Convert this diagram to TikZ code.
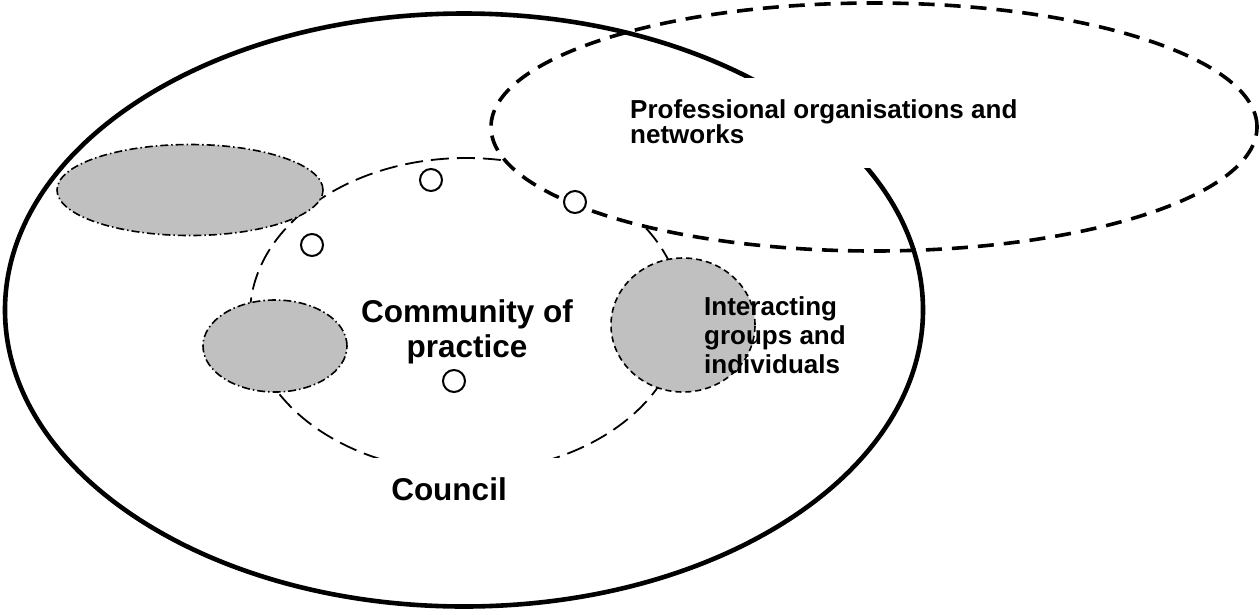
\documentclass[tikz,border=0pt]{standalone}
\usepackage{fontspec}
\setmainfont{Liberation Sans}
\usetikzlibrary{shapes.geometric}
\definecolor{blobgray}{HTML}{C0C0C0}
\begin{document}
\begin{tikzpicture}[x=1pt,y=-1pt,
  ring/.style={ellipse, inner sep=0pt, outer sep=0pt},
  councilring/.style={ring, draw, line width=4.6pt},
  copring/.style={ring, draw, line width=1.8pt, dash pattern=on 18pt off 8pt},
  netring/.style={ring, draw, fill=white, line width=3.6pt, dash pattern=on 16pt off 10pt},
  dashdotblob/.style={ring, draw, fill=blobgray, line width=1.6pt,
    dash pattern=on 8pt off 3pt on 1.5pt off 3pt},
  dashblob/.style={ring, draw, fill=blobgray, line width=1.6pt, dash pattern=on 6pt off 4pt},
  member/.style={circle, draw, fill=white, line width=2pt, minimum size=22pt, inner sep=0pt},
  panel/.style={fill=white, inner sep=0pt},
  smalltext/.style={font=\bfseries\fontsize{26}{25}\selectfont, align=left, inner sep=0pt},
  bigtext/.style={font=\bfseries\fontsize{31.5}{35}\selectfont, align=center, inner sep=0pt}]
\useasboundingbox (0,0) rectangle (1260,614);

% community of practice (drawn first, partly hidden by the other shapes)
\node[copring, minimum width=432pt, minimum height=314pt] (cop) at (466,315) {};

% professional organisations and networks
\node[netring, minimum width=766pt, minimum height=248pt] (net) at (874,127) {};

% council boundary
\node[councilring, minimum width=918pt, minimum height=593pt] (council) at (464,310) {};

% white label panels
\node[panel, minimum width=445pt, minimum height=90pt] (netpanel) at (822,123) {};
\node[panel, minimum width=210pt, minimum height=70pt] (councilpanel) at (466,493) {};

% interacting groups
\node[dashdotblob, minimum width=266pt, minimum height=91pt] (groupA) at (190,190) {};
\node[dashdotblob, minimum width=144pt, minimum height=92pt] (groupB) at (275,346) {};
\node[dashblob, minimum width=144pt, minimum height=134pt] (groupC) at (683,325) {};

% individuals
\node[member] (m1) at (431,180) {};
\node[member] (m2) at (312,245) {};
\node[member] (m3) at (575,202) {};
\node[member] (m4) at (454,381) {};

% labels (base anchor = baseline of the last line)
\node[smalltext, anchor=base west] (netlabel) at (630,143) {Professional organisations and\\networks};
\node[bigtext, anchor=base] (coplabel) at (467,357) {Community of\\practice};
\node[smalltext, anchor=base west, font=\bfseries\fontsize{26}{29}\selectfont] (grouplabel) at (704,373) {Interacting\\groups and\\individuals};
\node[bigtext, anchor=base] (councillabel) at (449,500) {Council};
\end{tikzpicture}
\end{document}
